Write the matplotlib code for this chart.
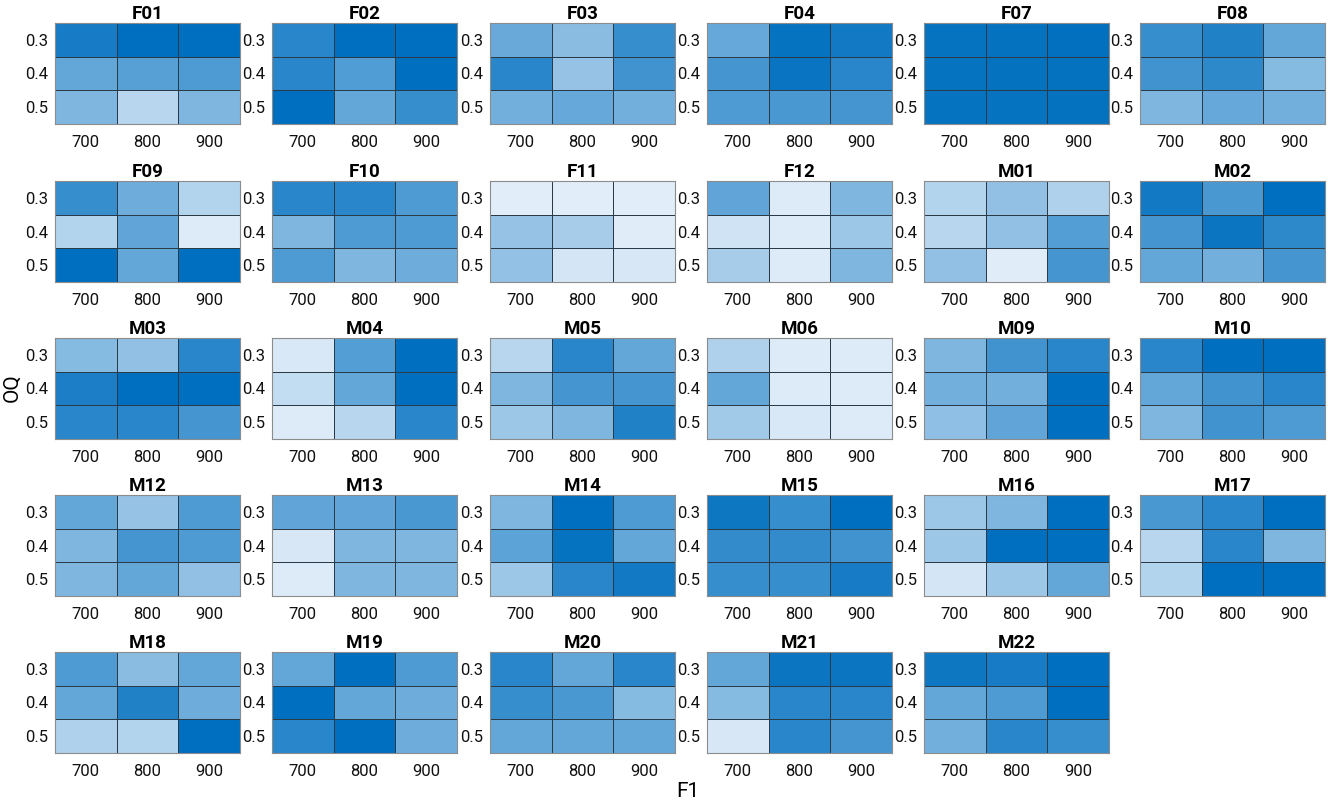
import numpy as np
import matplotlib
matplotlib.use("Agg")
import matplotlib.pyplot as plt
from matplotlib.colors import LinearSegmentedColormap

plt.rcParams['font.family'] = ['Roboto', 'DejaVu Sans']

f1_vals = [700, 800, 900]
oq_vals = [0.3, 0.4, 0.5]

# speaker ids, panel order left-to-right, top-to-bottom
speakers = ['F01', 'F02', 'F03', 'F04', 'F07', 'F08',
            'F09', 'F10', 'F11', 'F12', 'M01', 'M02',
            'M03', 'M04', 'M05', 'M06', 'M09', 'M10',
            'M12', 'M13', 'M14', 'M15', 'M16', 'M17',
            'M18', 'M19', 'M20', 'M21', 'M22']

# normalised score per cell, rows = OQ 0.3/0.4/0.5, cols = F1 700/800/900
F01 = [[0.90, 1.00, 1.00], [0.57, 0.62, 0.66], [0.45, 0.20, 0.45]]
F02 = [[0.82, 1.00, 1.00], [0.82, 0.65, 1.00], [1.00, 0.57, 0.76]]
F03 = [[0.55, 0.40, 0.76], [0.82, 0.35, 0.72], [0.50, 0.56, 0.50]]
F04 = [[0.56, 0.97, 0.92], [0.70, 0.96, 0.82], [0.66, 0.68, 0.70]]
F07 = [[0.97, 0.98, 0.99], [0.97, 0.98, 0.98], [0.97, 0.97, 0.98]]
F08 = [[0.76, 0.86, 0.57], [0.72, 0.80, 0.42], [0.45, 0.56, 0.50]]
F09 = [[0.76, 0.52, 0.22], [0.22, 0.58, 0.04], [1.00, 0.57, 1.00]]
F10 = [[0.82, 0.82, 0.66], [0.45, 0.66, 0.66], [0.66, 0.45, 0.52]]
F11 = [[0.02, 0.02, 0.02], [0.35, 0.28, 0.03], [0.36, 0.08, 0.07]]
F12 = [[0.58, 0.04, 0.45], [0.10, 0.04, 0.32], [0.28, 0.04, 0.45]]
M01 = [[0.22, 0.37, 0.24], [0.20, 0.37, 0.64], [0.37, 0.03, 0.70]]
M02 = [[0.92, 0.68, 1.00], [0.70, 0.95, 0.80], [0.57, 0.50, 0.70]]
M03 = [[0.42, 0.37, 0.82], [0.88, 1.00, 1.00], [0.82, 0.82, 0.70]]
M04 = [[0.06, 0.64, 1.00], [0.16, 0.57, 1.00], [0.04, 0.20, 0.82]]
M05 = [[0.20, 0.82, 0.57], [0.45, 0.70, 0.70], [0.32, 0.45, 0.86]]
M06 = [[0.24, 0.04, 0.04], [0.57, 0.04, 0.04], [0.30, 0.06, 0.04]]
M09 = [[0.45, 0.72, 0.82], [0.50, 0.50, 1.00], [0.38, 0.58, 1.00]]
M10 = [[0.82, 1.00, 1.00], [0.57, 0.72, 0.82], [0.45, 0.72, 0.66]]
M12 = [[0.57, 0.35, 0.66], [0.45, 0.70, 0.66], [0.45, 0.57, 0.37]]
M13 = [[0.58, 0.58, 0.68], [0.07, 0.45, 0.45], [0.04, 0.45, 0.45]]
M14 = [[0.45, 1.00, 0.66], [0.60, 0.97, 0.57], [0.32, 0.82, 0.92]]
M15 = [[0.94, 0.76, 1.00], [0.78, 0.78, 0.72], [0.76, 0.76, 0.90]]
M16 = [[0.32, 0.45, 1.00], [0.32, 1.00, 1.00], [0.08, 0.32, 0.57]]
M17 = [[0.68, 0.82, 1.00], [0.20, 0.82, 0.45], [0.22, 1.00, 1.00]]
M18 = [[0.66, 0.40, 0.57], [0.57, 0.86, 0.52], [0.24, 0.22, 1.00]]
M19 = [[0.57, 1.00, 0.66], [1.00, 0.57, 0.52], [0.82, 1.00, 0.52]]
M20 = [[0.82, 0.57, 0.82], [0.76, 0.68, 0.42], [0.57, 0.57, 0.57]]
M21 = [[0.57, 0.95, 0.95], [0.42, 0.82, 0.82], [0.07, 0.82, 0.70]]
M22 = [[0.94, 0.90, 1.00], [0.57, 0.66, 1.00], [0.50, 0.82, 0.76]]

scores = [F01, F02, F03, F04, F07, F08, F09, F10, F11, F12, M01, M02,
          M03, M04, M05, M06, M09, M10, M12, M13, M14, M15, M16, M17,
          M18, M19, M20, M21, M22]

cmap = LinearSegmentedColormap.from_list('blu', ['#e6f0fa', '#006fbf'])

W, H = 1328, 805
fig = plt.figure(figsize=(W / 100, H / 100), dpi=100)

col_x = [55, 272, 490, 707, 924, 1140]
row_y = [23, 181, 338, 495, 652]
aw, ah = 185, 101

for i, (name, grid) in enumerate(zip(speakers, scores)):
    r, c = divmod(i, 6)
    ax = fig.add_axes([col_x[c] / W, 1 - (row_y[r] + ah) / H, aw / W, ah / H])
    ax.pcolormesh(np.arange(4), np.arange(4), np.array(grid), cmap=cmap,
                  vmin=0, vmax=1, edgecolors='#2b3a47', linewidth=0.5)
    ax.set_xlim(0, 3)
    ax.set_ylim(3, 0)
    ax.set_xticks(np.arange(3) + 0.5)
    ax.set_xticklabels([str(v) for v in f1_vals])
    ax.set_yticks(np.arange(3) + 0.5)
    ax.set_yticklabels([str(v) for v in oq_vals])
    ax.tick_params(length=0, labelsize=12, pad=8, colors='#111111')
    ax.tick_params(axis='y', pad=5)
    for s in ax.spines.values():
        s.set_color('#8c8c8c')
        s.set_linewidth(0.8)
    ax.set_title(name, fontsize=13.5, fontweight='bold', pad=3)

fig.text(12 / W, 1 - 388 / H, 'OQ', rotation=90, fontsize=15,
         ha='center', va='center')
fig.text(688 / W, 1 - 791 / H, 'F1', fontsize=15, ha='center', va='center')

fig.savefig('out.png', dpi=100)
